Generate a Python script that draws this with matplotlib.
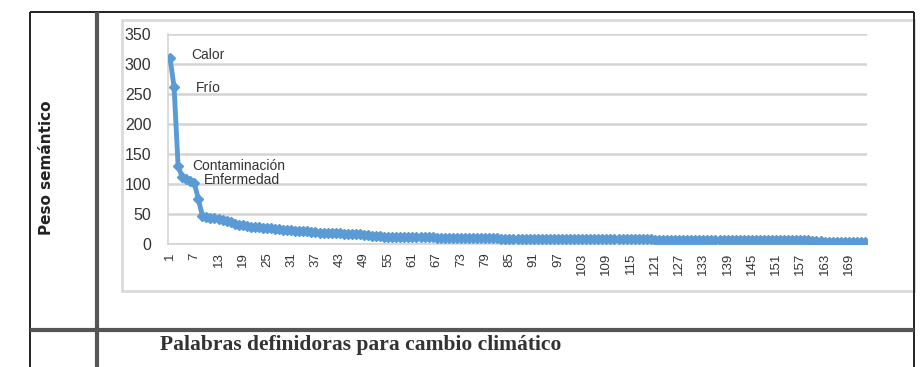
import matplotlib
matplotlib.use("Agg")
import matplotlib.pyplot as plt
from matplotlib.lines import Line2D
from matplotlib.patches import Rectangle

# Semantic weight of each defining word, in rank order
peso = [
    310, 262, 130, 112, 108, 105, 102, 75, 47, 45,
    44, 43, 42, 40, 38, 36, 34, 32, 31, 30,
    29, 28, 28, 27, 27, 26, 25, 25, 24, 24,
    23, 22, 22, 21, 21, 20, 20, 19, 19, 19,
    18, 18, 18, 17, 17, 16, 16, 16, 15, 15,
    14, 14, 13, 12, 12, 11, 11, 11, 11, 11,
    11, 11, 11, 11, 11, 11, 10, 10, 10, 10,
    10, 10, 10, 10, 10, 10, 10, 10, 10, 10,
    10, 10, 9, 9, 8, 8, 8, 8, 8, 8,
    8, 8, 8, 8, 8, 8, 8, 8, 8, 8,
    8, 8, 8, 8, 8, 8, 8, 8, 8, 8,
    8, 8, 8, 8, 8, 8, 8, 8, 8, 8,
    7, 7, 7, 6, 6, 6, 6, 6, 6, 6,
    6, 6, 6, 6, 6, 6, 6, 6, 6, 6,
    6, 6, 6, 6, 6, 6, 6, 6, 6, 6,
    6, 6, 6, 6, 6, 6, 6, 6, 6, 5,
    5, 5, 4, 4, 4, 4, 4, 4, 3, 3,
    3, 3, 3,
]
rango = list(range(1, len(peso) + 1))

# Labelled words: (rank, text)
etiquetas = [(1, "Calor"), (2, "Frío"), (3, "Contaminación"), (4, "Enfermedad")]
etiqueta_offsets = [(15, 2), (16, -1), (10, 0), (16, -2)]

y_ticks = [0, 50, 100, 150, 200, 250, 300, 350]
x_tick_labels = list(range(1, len(peso) + 1, 6))

titulo_y = "Peso semántico"
titulo_x = "Palabras definidoras para cambio climático"

W, H = 922, 367
fig = plt.figure(figsize=(W / 100, H / 100), dpi=100)
fig.patch.set_facecolor("white")


def fx(px):
    return px / W


def fy(py):
    return (H - py) / H


def fig_line(x0, y0, x1, y1, color, lw):
    fig.add_artist(Line2D([fx(x0), fx(x1)], [fy(y0), fy(y1)],
                          transform=fig.transFigure, color=color, lw=lw,
                          solid_capstyle="butt"))


# Chart frame
fig.add_artist(Rectangle((fx(122), fy(291)), fx(914) - fx(122), fy(20) - fy(291),
                         transform=fig.transFigure, fill=False,
                         edgecolor="#dadada", lw=2))

# Table rules
fig_line(30, 12, 914, 12, "#222222", 1.4)
fig_line(30, 12, 30, 367, "#222222", 1.4)
fig_line(914, 12, 914, 367, "#222222", 1.4)
fig_line(97, 12, 97, 367, "#555555", 3)
fig_line(30, 330, 914, 330, "#555555", 3)

ax = fig.add_axes([fx(168), fy(244), fx(867) - fx(168), fy(34) - fy(244)])
ax.set_facecolor("none")
ax.plot(rango, peso, color="#5b9bd5", lw=3.5, marker="D", markersize=5,
        markeredgecolor="#5b9bd5", markerfacecolor="#5b9bd5", zorder=3)

ax.set_xlim(0.5, len(peso) + 0.5)
ax.set_ylim(0, 350)
ax.set_yticks(y_ticks)
ax.set_yticklabels([str(v) for v in y_ticks], fontsize=11.5,
                   family="Liberation Sans", color="#333333")
ax.set_xticks(x_tick_labels)
ax.set_xticklabels([str(v) for v in x_tick_labels], rotation=90, fontsize=9.5,
                   family="Liberation Sans", color="#333333")
ax.tick_params(axis="y", length=0, pad=12)
ax.tick_params(axis="x", length=0, pad=6)
ax.grid(axis="y", color="#d4d4d4", lw=1.8)
ax.set_axisbelow(True)
for s in ["top", "right"]:
    ax.spines[s].set_visible(False)
ax.spines["left"].set_color("#d4d4d4")
ax.spines["bottom"].set_color("#d4d4d4")
ax.spines["left"].set_linewidth(1.2)
ax.spines["bottom"].set_linewidth(1.2)

for (r, txt), off in zip(etiquetas, etiqueta_offsets):
    ax.annotate(txt, xy=(r, peso[r - 1]), xytext=off, textcoords="offset points",
                ha="left", va="center", fontsize=10, family="Liberation Sans",
                color="#333333")

fig.text(fx(47), fy(168), titulo_y, rotation=90, ha="center", va="center",
         fontsize=11, fontweight="bold", family="DejaVu Sans", color="#222222")
fig.text(fx(160), fy(345), titulo_x, ha="left", va="center",
         fontsize=15.5, fontweight="bold", family="Liberation Serif", color="#333333")

fig.savefig("out.png", dpi=100, facecolor="white")
